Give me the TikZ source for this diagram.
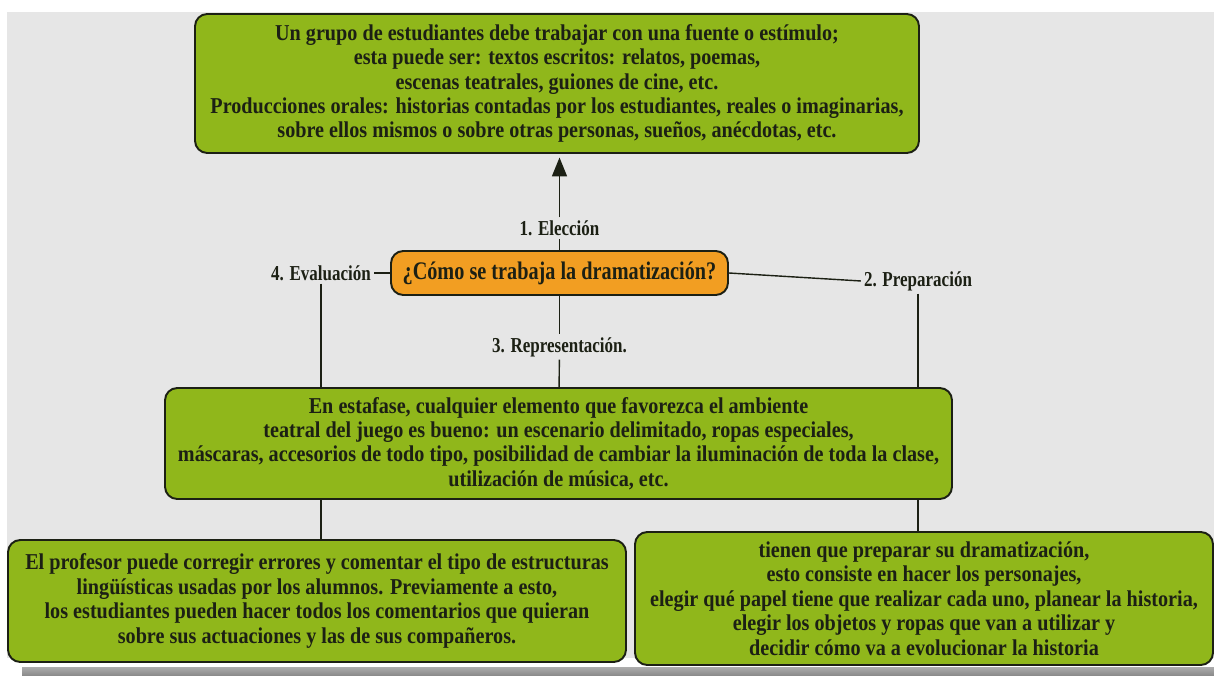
\documentclass[tikz,border=0pt]{standalone}
\usepackage{fontspec}
\setmainfont{Liberation Serif}[FakeStretch=0.89]
\newfontfamily\rootfont{Liberation Serif}[FakeStretch=0.8]
\usetikzlibrary{positioning,arrows.meta,backgrounds}

\definecolor{boxgreen}{RGB}{144,183,27}
\definecolor{boxorange}{RGB}{242,158,34}
\definecolor{panelgrey}{RGB}{230,230,230}
\definecolor{inkdark}{RGB}{28,32,20}

\begin{document}
\begin{tikzpicture}[%
    >={Triangle[length=3.8mm,width=3mm]}, % solid head, as in the map
    on grid,                              % shifts are centre to centre
    node distance=1cm,
    ]
% -------------------------------------------------
% Box and label styles
\tikzset{
  base/.style={draw=inkdark, line width=1.1pt, rounded corners=7pt, align=center,
    text=inkdark, inner sep=0pt, font=\bfseries\fontsize{12.9}{13.9}\selectfont},
  leaf/.style={base, fill=boxgreen},
  root/.style={base, fill=boxorange, font=\rootfont\bfseries\fontsize{14.4}{16}\selectfont},
  tag/.style={font=\rootfont\bfseries\fontsize{12.1}{13}\selectfont, text=inkdark,
    fill=panelgrey, inner sep=1.5pt},
  conn/.style={draw=inkdark, line width=0.8pt},
  to/.style={conn, line width=1pt, ->},
}
\useasboundingbox (0,0) rectangle (24.28,13.5);
% panel and its shadow
\begin{pgfonlayer}{background}
\fill[panelgrey] (0.14,0.34) rectangle (24.28,13.26);
\shade[top color=gray!65, bottom color=gray!90] (0.44,0) rectangle (24.28,0.16);
\end{pgfonlayer}
% -------------------------------------------------
% The central question first, everything else around it
\node [root, minimum width=6.74cm, minimum height=0.88cm] (q) at (11.19,8.04)
  {¿Cómo se trabaja la dramatización?};

\node [leaf, above=3.79cm of q, xshift=-0.05cm, minimum width=14.48cm,
  minimum height=2.78cm] (fuente)
  {Un grupo de estudiantes debe trabajar con una fuente o estímulo;\\
   esta puede ser: textos escritos: relatos, poemas,\\
   escenas teatrales, guiones de cine, etc.\\
   Producciones orales: historias contadas por los estudiantes, reales o imaginarias,\\
   sobre ellos mismos o sobre otras personas, sueños, anécdotas, etc.};
\node [leaf, below=3.41cm of q, xshift=-0.02cm, minimum width=15.74cm,
  minimum height=2.22cm] (escena)
  {En estafase, cualquier elemento que favorezca el ambiente\\
   teatral del juego es bueno: un escenario delimitado, ropas especiales,\\
   máscaras, accesorios de todo tipo, posibilidad de cambiar la iluminación de toda la clase,\\
   utilización de música, etc.};
\node [leaf, below left=6.56cm and 4.85cm of q, minimum width=12.36cm,
  minimum height=2.44cm] (profesor)
  {El profesor puede corregir errores y comentar el tipo de estructuras\\
   lingüísticas usadas por los alumnos. Previamente a esto,\\
   los estudiantes pueden hacer todos los comentarios que quieran\\
   sobre sus actuaciones y las de sus compañeros.};
\node [leaf, below right=6.51cm and 7.29cm of q, minimum width=11.56cm,
  minimum height=2.66cm] (ensayo)
  {tienen que preparar su dramatización,\\
   esto consiste en hacer los personajes,\\
   elegir qué papel tiene que realizar cada uno, planear la historia,\\
   elegir los objetos y ropas que van a utilizar y\\
   decidir cómo va a evolucionar la historia};

% step labels
\node [tag, above=0.9cm of q] (eleccion) {1. Elección};
\node [tag, below=1.48cm of q] (repr) {3. Representación.};
\node [tag, left=4.77cm of q] (evalu) {4. Evaluación};
\node [tag, right=7.17cm of q, yshift=-0.16cm] (prep) {2. Preparación};

% -------------------------------------------------
% Connectors go under the boxes
\begin{pgfonlayer}{background}
\draw[conn] (q) -- (eleccion);
\draw[to] (eleccion) -- ([yshift=-2pt]eleccion |- fuente.south);
\draw[conn] (q) -- (repr);
\draw[conn] (repr) -- (escena);
\draw[conn] (q) -- (evalu);
\draw[conn] (evalu) -- (evalu |- profesor.north);
\draw[conn] (q.east) -- (prep.west);
\draw[conn] (prep) -- (prep |- ensayo.north);
\end{pgfonlayer}
\end{tikzpicture}
\end{document}
